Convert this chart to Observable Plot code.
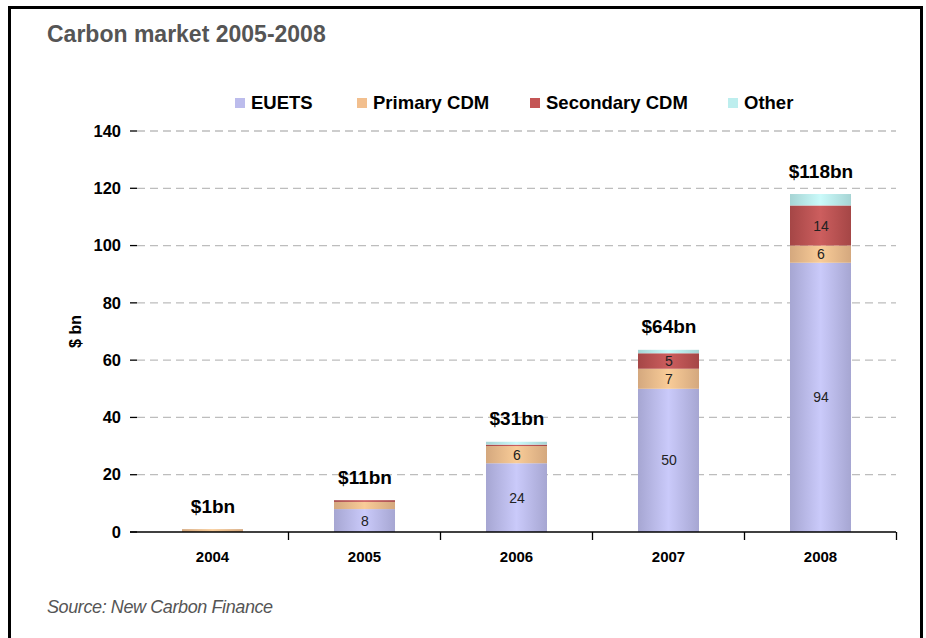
<!DOCTYPE html>
<html>
<head>
<meta charset="utf-8">
<script src="https://cdn.jsdelivr.net/npm/d3@7"></script>
<script src="https://cdn.jsdelivr.net/npm/@observablehq/plot@0.6"></script>
<style>
  html, body { margin: 0; padding: 0; background: #fff; }
  #wrap { position: relative; width: 926px; height: 638px; overflow: hidden; font-family: "Liberation Sans", Arial, sans-serif; }
  #frame { position: absolute; left: 8px; top: 6px; width: 915px; height: 700px; border: 3px solid #000; box-sizing: border-box; }
  #title { position: absolute; left: 47px; top: 21px; font-size: 23px; font-weight: bold; color: #555; white-space: nowrap; }
  #legend { position: absolute; left: 0; top: 92px; font-size: 18.5px; font-weight: bold; color: #000; }
  .li { position: absolute; white-space: nowrap; display: flex; align-items: center; }
  .sw { width: 10px; height: 10px; margin-right: 6px; }
  #source { position: absolute; left: 47px; top: 597px; font-size: 18px; font-style: italic; color: #555; white-space: nowrap; letter-spacing: -0.4px; }
  #chart { position: absolute; left: 0; top: 0; }
</style>
</head>
<body>
<div id="wrap">
  <div id="frame"></div>
  <div id="chart"></div>
  <div id="title">Carbon market 2005-2008</div>
  <div id="legend"></div>
  <div id="source">Source: New Carbon Finance</div>
</div>
<script>
const years = ["2004", "2005", "2006", "2007", "2008"];
const seriesNames = ["EUETS", "Primary CDM", "Secondary CDM", "Other"];
const euets =       [0,   8,   24,  50,  94];
const primaryCDM =  [1,   2.5, 6,   7,   6];
const secondaryCDM =[0,   0.6, 0.5, 5.4, 14];
const other =       [0,   0,   1,   1.2, 4];
const totalLabels = ["$1bn", "$11bn", "$31bn", "$64bn", "$118bn"];
const yTicks = [0, 20, 40, 60, 80, 100, 120, 140];

const seriesValues = [euets, primaryCDM, secondaryCDM, other];
const swatch = ["#bcbcec", "#f2bf8e", "#c45555", "#bdeeee"];
const grads = [
  ["#a6a6d2", "#cacafa"],
  ["#d4a87e", "#f9cc98"],
  ["#a54646", "#cc5e5e"],
  ["#a6d4d4", "#cafafa"]
];

const data = [];
years.forEach((yr, i) => {
  seriesNames.forEach((s, j) => {
    data.push({year: yr, series: s, value: seriesValues[j][i]});
  });
});
const totals = years.map((yr, i) => ({
  year: yr,
  total: seriesValues.reduce((a, arr) => a + arr[i], 0),
  label: totalLabels[i]
}));

const plot = Plot.plot({
  width: 926,
  height: 638,
  marginLeft: 136,
  marginRight: 30,
  marginTop: 131,
  marginBottom: 106,
  style: { fontFamily: "Liberation Sans, Arial, sans-serif", overflow: "visible", background: "transparent" },
  x: { domain: years, paddingInner: 0.6, paddingOuter: 0.3, axis: null },
  y: { domain: [0, 140], axis: null },
  color: { domain: seriesNames, range: seriesNames.map((s, i) => `url(#grad${i})`) },
  marks: [
    Plot.barY(data, Plot.stackY({ x: "year", y: "value", z: "series", fill: "series", order: null })),
    Plot.text(data, Plot.stackY({ x: "year", y: "value", z: "series", order: null,
      text: d => d.value >= 5 ? String(Math.round(d.value)) : "",
      fill: "#222", fontSize: 14 })),
    Plot.text(totals, { x: "year", y: "total", text: "label", dy: -23, fontSize: 19, fontWeight: "bold", fill: "#000" })
  ]
});

const svg = d3.select(plot);
const defs = svg.insert("defs", ":first-child");
grads.forEach((g, i) => {
  const lg = defs.append("linearGradient").attr("id", `grad${i}`).attr("x1", "0%").attr("x2", "100%").attr("y1", "0%").attr("y2", "0%");
  lg.append("stop").attr("offset", "0%").attr("stop-color", g[0]);
  lg.append("stop").attr("offset", "50%").attr("stop-color", g[1]);
  lg.append("stop").attr("offset", "100%").attr("stop-color", g[0]);
});

const xs = plot.scale("x");
const ys = plot.scale("y");
const y0 = ys.apply(0);
// gridlines behind bars
const grid = svg.insert("g", "defs + *");
yTicks.filter(t => t > 0).forEach(t => {
  const yy = ys.apply(t);
  grid.append("line").attr("x1", 137).attr("x2", 896).attr("y1", yy).attr("y2", yy)
    .attr("stroke", "#bdbdbd").attr("stroke-width", 1.3).attr("stroke-dasharray", "8,5");
});
const ax = svg.append("g");
ax.append("line").attr("x1", 130).attr("x2", 896).attr("y1", y0).attr("y2", y0).attr("stroke", "#000").attr("stroke-width", 1.5);
yTicks.forEach(t => {
  const yy = ys.apply(t);
  ax.append("line").attr("x1", 130).attr("x2", 137).attr("y1", yy).attr("y2", yy).attr("stroke", "#000").attr("stroke-width", 1.3);
  ax.append("text").attr("x", 121).attr("y", yy).attr("dy", "0.35em").attr("text-anchor", "end")
    .attr("font-size", 16.5).attr("font-weight", "bold").attr("fill", "#000").text(t);
});
const step = xs.step;
years.forEach((yr, i) => {
  const cx = xs.apply(yr) + xs.bandwidth / 2;
  const bx = cx + step / 2;
  ax.append("line").attr("x1", bx).attr("x2", bx).attr("y1", y0).attr("y2", y0 + 8).attr("stroke", "#000").attr("stroke-width", 1.3);
  ax.append("text").attr("x", cx).attr("y", y0 + 30).attr("text-anchor", "middle")
    .attr("font-size", 15).attr("font-weight", "bold")
    .attr("fill", "#000").text(yr);
});
ax.append("text").attr("transform", `translate(81,${ys.apply(70)}) rotate(-90)`).attr("text-anchor", "middle")
  .attr("font-size", 16).attr("font-weight", "bold").attr("fill", "#000").text("$ bn");

document.getElementById("chart").appendChild(plot);

const legPos = [235, 357, 530, 728];
const leg = document.getElementById("legend");
seriesNames.forEach((s, i) => {
  const el = document.createElement("div");
  el.className = "li";
  el.style.left = legPos[i] + "px";
  el.innerHTML = `<span class="sw" style="background:${swatch[i]}"></span><span>${s}</span>`;
  leg.appendChild(el);
});
</script>
</body>
</html>
